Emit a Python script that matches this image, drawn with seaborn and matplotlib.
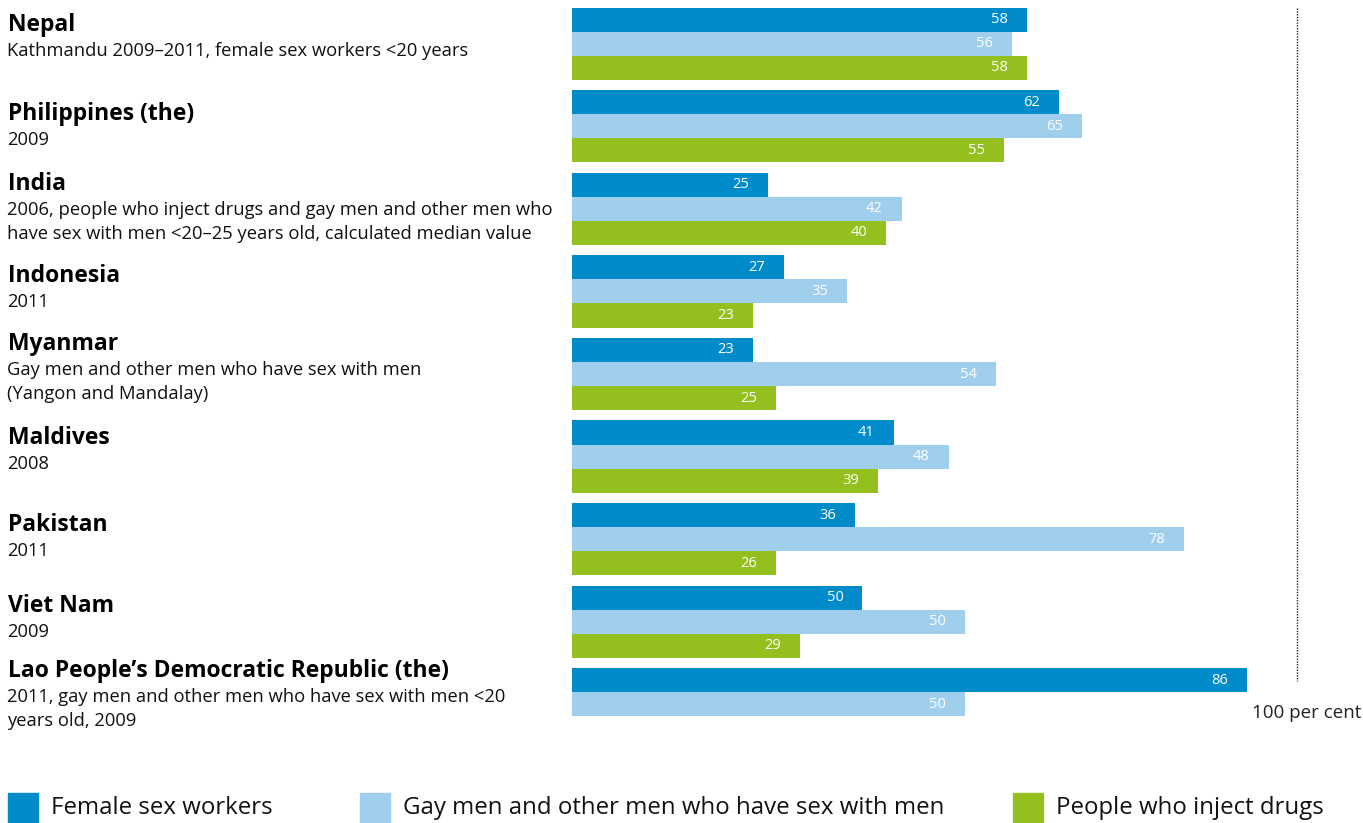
import pandas as pd
import numpy as np
import matplotlib.pyplot as plt
import seaborn as sns
from matplotlib.patches import Rectangle

countries = ['Nepal', 'Philippines (the)', 'India', 'Indonesia', 'Myanmar',
             'Maldives', 'Pakistan', 'Viet Nam', 'Lao People\u2019s Democratic Republic (the)']
notes = ['Kathmandu 2009\u20132011, female sex workers <20 years',
         '2009',
         '2006, people who inject drugs and gay men and other men who\nhave sex with men <20\u201325 years old, calculated median value',
         '2011',
         'Gay men and other men who have sex with men\n(Yangon and Mandalay)',
         '2008',
         '2011',
         '2009',
         '2011, gay men and other men who have sex with men <20\nyears old, 2009']
groups = ['Female sex workers', 'Gay men and other men who have sex with men',
          'People who inject drugs']
# bar lengths as drawn in the picture
fsw = [58, 62, 25, 27, 23, 41, 36, 37, 86]
msm = [56, 65, 42, 35, 54, 48, 78, 50, 50]
pwid = [58, 55, 40, 23, 26, 39, 26, 29, None]
# printed labels (Viet Nam FSW bar is labelled 50 but drawn shorter)
fsw_lbl = [58, 62, 25, 27, 23, 41, 36, 50, 86]
msm_lbl = [56, 65, 42, 35, 54, 48, 78, 50, 50]
pwid_lbl = [58, 55, 40, 23, 25, 39, 26, 29, None]
colors = ['#008bcb', '#a0cfee', '#93c01f']

rows = []
for i, c in enumerate(countries):
    for g, vals, lbls in zip(groups, [fsw, msm, pwid], [fsw_lbl, msm_lbl, pwid_lbl]):
        if vals[i] is not None:
            rows.append({'country': c, 'group': g, 'value': vals[i], 'label': lbls[i]})
df = pd.DataFrame(rows)

plt.rcParams['font.family'] = ['Open Sans', 'DejaVu Sans']

W, H = 1363, 823
fig = plt.figure(figsize=(W / 100, H / 100), dpi=100)
ax = fig.add_axes([572 / W, 0, 785 / W, 1])

sns.barplot(data=df, x='value', y='country', hue='group', order=countries,
            hue_order=groups, palette=colors, orient='h', width=0.873,
            saturation=1, legend=False, ax=ax)
ax.set_xlim(0, 100)
ax.set_ylim(9.442, -0.533)
ax.axis('off')

# value labels inside bar ends
for cont, g in zip(ax.containers, groups):
    sub = df[df['group'] == g].set_index('country')
    for bar, c in zip(cont, [c for c in countries if c in sub.index]):
        w = bar.get_width()
        if np.isnan(w) or w == 0:
            continue
        ax.annotate(f"{sub.loc[c, 'label']:.0f}", (w, bar.get_y() + bar.get_height() / 2),
                    xytext=(-19, 0), textcoords='offset pixels',
                    ha='right', va='center', color='white', fontsize=10.5)

# dotted reference line
ax.vlines(92.4, -0.43, 7.72, colors='#222222', linestyles=(0, (1, 1)), lw=1)
fig.text(1361 / W, 1 - 713 / H, '100 per cent', ha='right', va='center',
         fontsize=13.5, color='#222222')

# country titles and notes
title_px = [25, 114, 184, 276, 344, 438, 525, 606, 671]
for name, note, ty in zip(countries, notes, title_px):
    fig.text(8 / W, 1 - ty / H, name, ha='left', va='center',
             fontsize=16.5, fontweight='bold', color='black')
    fig.text(7 / W, 1 - (ty + 17) / H, note, ha='left', va='top',
             fontsize=13.2, color='#111111', linespacing=1.42)

# legend
leg_x = [8, 360, 1013]
for x, g, col in zip(leg_x, groups, colors):
    fig.patches.append(Rectangle((x / W, 0), 30 / W, 30 / H,
                                 transform=fig.transFigure, color=col))
    fig.text((x + 43) / W, 1 - 808 / H, g, ha='left', va='center',
             fontsize=17.3, color='#111111')

fig.savefig('out.png', dpi=100)
